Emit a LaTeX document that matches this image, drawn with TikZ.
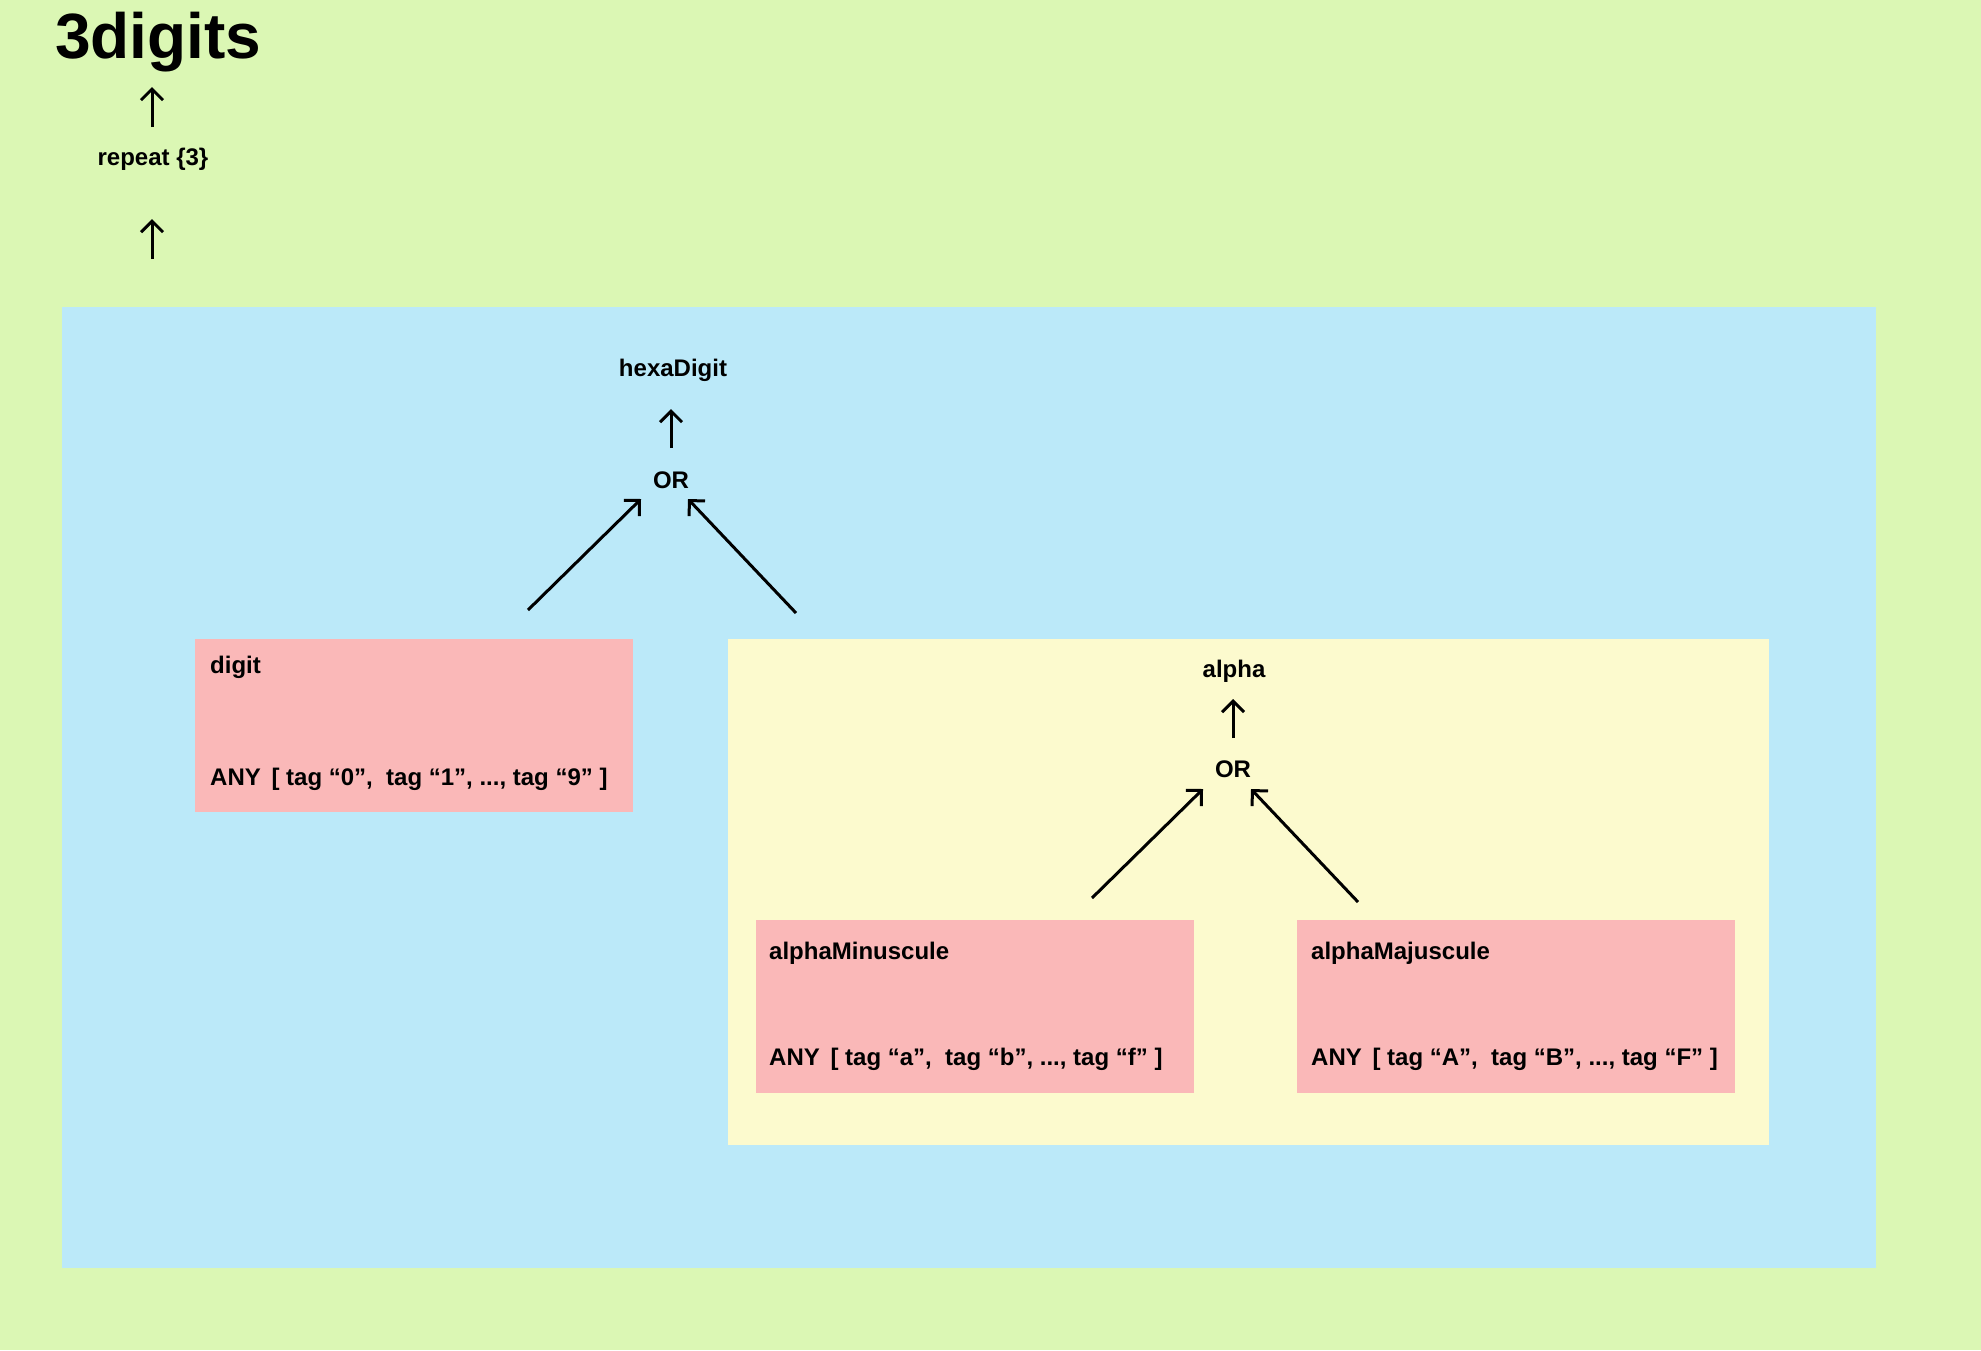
\documentclass[tikz,border=0pt]{standalone}
\usepackage{fontspec}
\setmainfont{Liberation Sans}
\usetikzlibrary{arrows.meta}
\definecolor{bggreen}{RGB}{219,247,180}
\definecolor{bgblue}{RGB}{187,233,249}
\definecolor{bgyellow}{RGB}{252,250,206}
\definecolor{boxpink}{RGB}{250,184,184}
\begin{document}
\begin{tikzpicture}[x=1pt,y=-1pt,
  lbl/.style={inner sep=0pt, anchor=base west, font=\fontsize{24}{28}\selectfont\bfseries},
  clbl/.style={inner sep=0pt, anchor=base, font=\fontsize{24}{28}\selectfont\bfseries},
  arr/.style={line width=3pt, -{Straight Barb[length=11pt,width=22pt,line width=3pt]}},
  pinkbox/.style={fill=boxpink, draw=none}]
\useasboundingbox (0,0) rectangle (1981,1350);
\fill[bggreen] (0,0) rectangle (1981,1350);
\fill[bgblue] (62,307) rectangle (1876,1268);
\fill[bgyellow] (728,639) rectangle (1769,1145);
\fill[pinkbox] (195,639) rectangle (633,812);
\fill[pinkbox] (756,920) rectangle (1194,1093);
\fill[pinkbox] (1297,920) rectangle (1735,1093);

\node[inner sep=0pt, anchor=base west, font=\fontsize{64}{70}\selectfont\bfseries] (title) at (55,58) {3digits};
\node[clbl] (repeat) at (153,165) {repeat \{3\}};
\node[clbl] (hexa) at (673,376) {hexaDigit};
\node[clbl] (or1) at (671,488) {OR};
\node[lbl] (digit) at (210,673) {digit};
\node[lbl] (digitany) at (210,785) {ANY \,[ tag “0”,\ \ tag “1”, ..., tag “9” ]};
\node[clbl] (alpha) at (1234,677) {alpha};
\node[clbl] (or2) at (1233,777) {OR};
\node[lbl] (amin) at (769,959) {alphaMinuscule};
\node[lbl] (aminany) at (769,1065) {ANY \,[ tag “a”,\ \ tag “b”, ..., tag “f” ]};
\node[lbl] (amaj) at (1311,959) {alphaMajuscule};
\node[lbl] (amajany) at (1311,1065) {ANY \,[ tag “A”,\ \ tag “B”, ..., tag “F” ]};

\coordinate (t1s) at (152,127); \coordinate (t1e) at (152,87);
\coordinate (t2s) at (152,259); \coordinate (t2e) at (152,219);
\coordinate (h1s) at (671,448); \coordinate (h1e) at (671,409);
\coordinate (o1ls) at (528,610); \coordinate (o1le) at (641,499);
\coordinate (o1rs) at (796,613); \coordinate (o1re) at (688,499);
\coordinate (a1s) at (1233,738); \coordinate (a1e) at (1233,699);
\coordinate (o2ls) at (1092,898); \coordinate (o2le) at (1203,789);
\coordinate (o2rs) at (1358,902); \coordinate (o2re) at (1251,789);

\draw[arr] (t1s) -- (t1e);
\draw[arr] (t2s) -- (t2e);
\draw[arr] (h1s) -- (h1e);
\draw[arr] (o1ls) -- (o1le);
\draw[arr] (o1rs) -- (o1re);
\draw[arr] (a1s) -- (a1e);
\draw[arr] (o2ls) -- (o2le);
\draw[arr] (o2rs) -- (o2re);
\end{tikzpicture}
\end{document}
